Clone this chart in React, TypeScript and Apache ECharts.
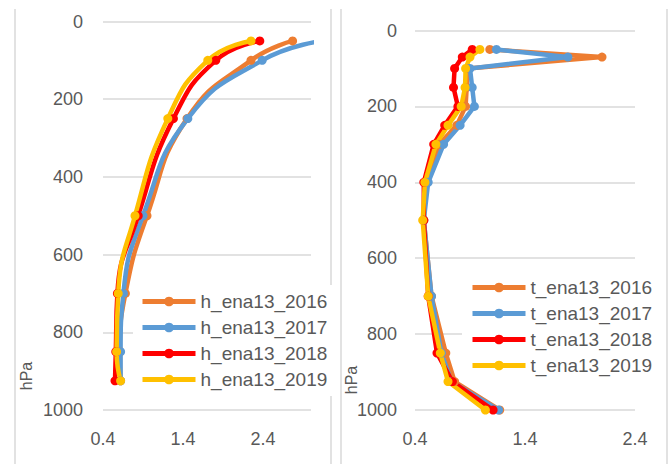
import React, { useEffect, useRef } from "react";
import * as echarts from "echarts";

// Left panel (h) pressure levels and values
const levelsH = [50, 100, 250, 500, 700, 850, 925];
const h2016 = [2.77, 2.25, 1.45, 0.95, 0.68, 0.61, 0.62];
const h2017 = [3.15, 2.39, 1.46, 0.9, 0.655, 0.62, 0.62];
const h2018 = [2.36, 1.81, 1.28, 0.84, 0.58, 0.56, 0.55];
const h2019 = [2.25, 1.71, 1.21, 0.8, 0.59, 0.57, 0.62];

// Right panel (t) pressure levels and values
const levelsT = [50, 70, 100, 150, 200, 250, 300, 400, 500, 700, 850, 925, 1000];
const t2016 = [1.08, 2.1, 0.88, 0.87, 0.86, 0.78, 0.62, 0.5, 0.48, 0.55, 0.68, 0.76, 1.17];
const t2017 = [1.14, 1.79, 0.9, 0.92, 0.94, 0.81, 0.66, 0.52, 0.48, 0.55, 0.64, 0.73, 1.16];
const t2018 = [0.92, 0.83, 0.76, 0.75, 0.79, 0.67, 0.57, 0.48, 0.48, 0.52, 0.6, 0.74, 1.11];
const t2019 = [0.99, 0.9, 0.86, 0.855, 0.82, 0.7, 0.59, 0.49, 0.47, 0.52, 0.63, 0.7, 1.04];

const namesH = ["h_ena13_2016", "h_ena13_2017", "h_ena13_2018", "h_ena13_2019"];
const namesT = ["t_ena13_2016", "t_ena13_2017", "t_ena13_2018", "t_ena13_2019"];
const colors = ["#ED7D31", "#5B9BD5", "#FF0000", "#FFC000"];

const FONT = "Liberation Sans";
const GRAY = "#595959";

function pairs(xs: number[], ps: number[]) {
  return xs.map((x, i) => [x, ps[i]]);
}

export default function App() {
  const ref = useRef<HTMLDivElement>(null);
  useEffect(() => {
    const chart = echarts.init(ref.current!, null, { renderer: "svg" });
    const xLabelFmt = (v: number) => {
      const d = v - 0.4;
      return Math.abs(d - Math.round(d)) < 1e-6 ? v.toFixed(1) : "";
    };
    const xAxisBase = {
      type: "value",
      interval: 1,
      min: 0.4,
      splitLine: { show: false },
      axisLine: { show: false },
      axisTick: { show: false },
      axisLabel: { formatter: xLabelFmt, fontSize: 18, color: GRAY, margin: 20, fontFamily: FONT },
    };
    const yAxisBase = {
      type: "value",
      min: 0,
      max: 1000,
      interval: 200,
      inverse: true,
      axisLine: { show: false },
      axisTick: { show: false },
      splitLine: { lineStyle: { color: "#d9d9d9", width: 1.5 } },
      axisLabel: { formatter: (v: number) => String(v), fontSize: 18, color: GRAY, margin: 20, fontFamily: FONT },
    };
    const hData = [h2016, h2017, h2018, h2019];
    const tData = [t2016, t2017, t2018, t2019];
    const series: any[] = [];
    hData.forEach((arr, i) => {
      series.push({
        name: namesH[i],
        type: "line",
        xAxisIndex: 0,
        yAxisIndex: 0,
        data: pairs(arr, levelsH),
        smooth: true,
        symbol: "circle",
        symbolSize: 9,
        color: colors[i],
        lineStyle: { width: 4.5, color: colors[i] },
        itemStyle: { color: colors[i] },
      });
    });
    tData.forEach((arr, i) => {
      series.push({
        name: namesT[i],
        type: "line",
        xAxisIndex: 1,
        yAxisIndex: 1,
        data: pairs(arr, levelsT),
        symbol: "circle",
        symbolSize: 9,
        color: colors[i],
        lineStyle: { width: 4.5, color: colors[i] },
        itemStyle: { color: colors[i] },
      });
    });
    const legendBase = {
      orient: "vertical",
      itemWidth: 53,
      itemHeight: 12,
      itemGap: 7,
      backgroundColor: "#fff",
      lineStyle: { width: 5 },
      textStyle: { fontSize: 19, color: GRAY, fontFamily: FONT },
    };
    const borderLine = (x: number) => ({
      type: "line",
      shape: { x1: x, y1: 9, x2: x, y2: 470 },
      style: { stroke: "#d9d9d9", lineWidth: 1.5 },
    });
    chart.setOption({
      animation: false,
      backgroundColor: "#fff",
      grid: [
        { left: 103, top: 21.5, width: 208, height: 388.5 },
        { left: 415, top: 30.5, width: 220, height: 379.5 },
      ],
      xAxis: [
        { ...xAxisBase, gridIndex: 0, max: 3.0 },
        { ...xAxisBase, gridIndex: 1, max: 2.4 },
      ],
      yAxis: [
        { ...yAxisBase, gridIndex: 0 },
        { ...yAxisBase, gridIndex: 1, axisLabel: { ...yAxisBase.axisLabel, margin: 18 } },
      ],
      legend: [
        { ...legendBase, data: namesH, left: 133, top: 285, padding: 7 },
        { ...legendBase, data: namesT, left: 462, top: 271, padding: [7, 8, 7, 8] },
      ],
      graphic: [
        borderLine(15),
        borderLine(331),
        borderLine(341),
        borderLine(667),
        {
          type: "text",
          x: 26,
          y: 376,
          rotation: Math.PI / 2,
          style: { text: "hPa", fontSize: 16, fill: GRAY, fontFamily: FONT, textAlign: "center", textVerticalAlign: "middle" },
        },
        {
          type: "text",
          x: 351,
          y: 380,
          rotation: Math.PI / 2,
          style: { text: "hPa", fontSize: 16, fill: GRAY, fontFamily: FONT, textAlign: "center", textVerticalAlign: "middle" },
        },
      ],
      series,
    });
    return () => chart.dispose();
  }, []);
  return (
    <div
      ref={ref}
      style={{ position: "absolute", left: 0, top: 0, width: 668, height: 464, background: "#fff" }}
    />
  );
}
